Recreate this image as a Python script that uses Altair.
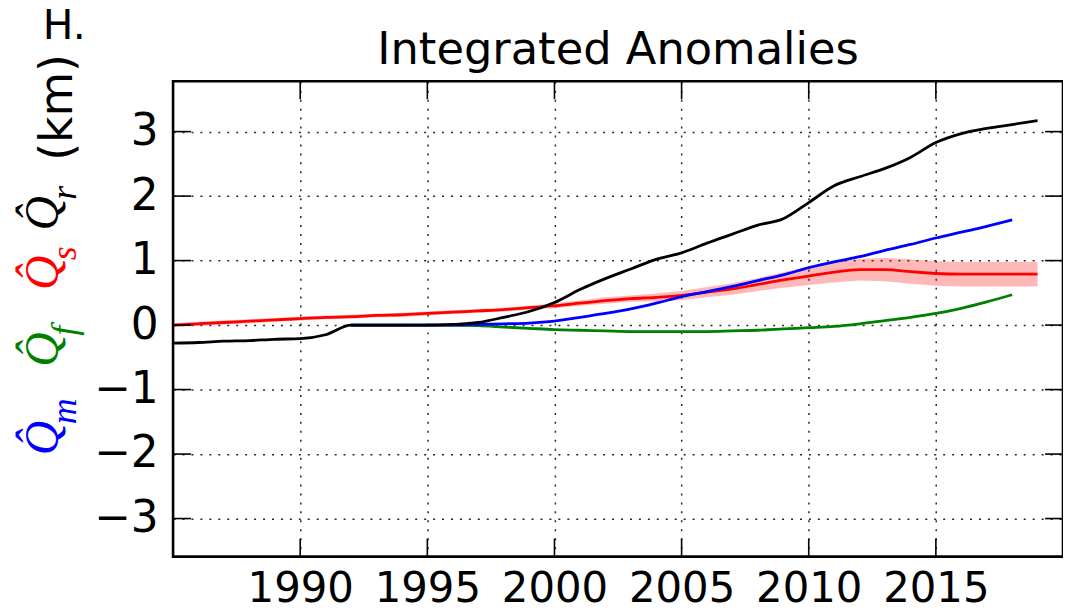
import altair as alt
import pandas as pd

# ---------------- data ----------------
years_full = list(range(1985, 2020))          # 1985..2019
years_short = list(range(1992, 2019))         # 1992..2018

q_r = [-0.28, -0.27, -0.25, -0.24, -0.22, -0.21, -0.15, 0.00, 0.00, 0.00,
       0.00, 0.01, 0.04, 0.12, 0.21, 0.35, 0.55, 0.72, 0.87, 1.02,
       1.12, 1.27, 1.41, 1.55, 1.65, 1.90, 2.16, 2.30, 2.43, 2.60,
       2.83, 2.97, 3.05, 3.11, 3.17]

q_s = [0.00, 0.02, 0.04, 0.06, 0.08, 0.10, 0.12, 0.13, 0.15, 0.16,
       0.18, 0.20, 0.22, 0.24, 0.27, 0.30, 0.34, 0.38, 0.41, 0.43,
       0.46, 0.51, 0.56, 0.63, 0.70, 0.76, 0.82, 0.86, 0.86, 0.83,
       0.80, 0.79, 0.79, 0.79, 0.79]
q_s_lo = [-0.03, -0.01, 0.01, 0.03, 0.05, 0.07, 0.09, 0.10, 0.12, 0.13,
          0.15, 0.17, 0.19, 0.21, 0.24, 0.26, 0.30, 0.33, 0.36, 0.37,
          0.39, 0.43, 0.47, 0.53, 0.58, 0.62, 0.66, 0.69, 0.68, 0.64,
          0.61, 0.60, 0.60, 0.60, 0.60]
q_s_hi = [0.03, 0.05, 0.07, 0.09, 0.11, 0.13, 0.15, 0.16, 0.18, 0.19,
          0.21, 0.23, 0.25, 0.27, 0.30, 0.34, 0.38, 0.43, 0.46, 0.49,
          0.53, 0.59, 0.65, 0.73, 0.82, 0.90, 0.98, 1.03, 1.04, 1.02,
          0.99, 0.98, 0.98, 0.98, 0.98]

q_m = [0.00, 0.00, 0.00, 0.00, 0.00, 0.01, 0.02, 0.03, 0.06, 0.12,
       0.18, 0.25, 0.34, 0.44, 0.52, 0.60, 0.69, 0.78, 0.89, 0.98,
       1.06, 1.16, 1.25, 1.35, 1.44, 1.53, 1.63]

q_f = [0.00, 0.00, 0.00, 0.00, 0.00, -0.01, -0.03, -0.05, -0.07, -0.08,
       -0.09, -0.10, -0.10, -0.10, -0.10, -0.09, -0.08, -0.06, -0.04, -0.02,
       0.02, 0.07, 0.12, 0.18, 0.26, 0.36, 0.47]

series_names = ["Qs", "Qf", "Qm", "Qr"]
series_colors = ["#ff0000", "#008000", "#0000ff", "#000000"]

x_ticks = [1990, 1995, 2000, 2005, 2010, 2015]
y_ticks = [-3, -2, -1, 0, 1, 2, 3]
x_domain = [1985, 2020]
y_domain = [-3.59, 3.78]
title_text = "Integrated Anomalies"

# ---------------- tables ----------------
rows = []
for name, yrs, vals in [("Qs", years_full, q_s), ("Qf", years_short, q_f),
                        ("Qm", years_short, q_m), ("Qr", years_full, q_r)]:
    for yv, v in zip(yrs, vals):
        rows.append({"series": name, "year": yv, "value": v,
                     "order": series_names.index(name)})
lines_df = pd.DataFrame(rows)
band_df = pd.DataFrame({"year": years_full, "lo": q_s_lo, "hi": q_s_hi})
xt_df = pd.DataFrame({"t": x_ticks})
yt_df = pd.DataFrame({"t": y_ticks})

W, H = 895, 478
FONT = "DejaVu Sans"
MATH = "Liberation Serif"

xs = alt.Scale(domain=x_domain, nice=False, zero=False)
ys = alt.Scale(domain=y_domain, nice=False, zero=False)

x_axis = alt.Axis(values=x_ticks, format="d", grid=True, gridColor="#000000",
                  gridDash=[2, 7], gridWidth=1.5, gridOpacity=0.85,
                  ticks=False, domain=False, labelFontSize=42, labelFont=FONT,
                  labelColor="#000000", labelPadding=12, title=None,
                  labelFlush=False, labelOverlap=False)
y_axis = alt.Axis(values=y_ticks, format="d", grid=True, gridColor="#000000",
                  gridDash=[2, 7], gridWidth=1.5, gridOpacity=0.85,
                  ticks=False, domain=False, labelFontSize=44, labelFont=FONT,
                  labelColor="#000000", labelPadding=15, title=None,
                  labelFlush=False, labelOverlap=False)

band = alt.Chart(band_df).mark_area(color="#ff0000", opacity=0.28).encode(
    x=alt.X("year:Q", scale=xs, axis=x_axis),
    y=alt.Y("lo:Q", scale=ys, axis=y_axis),
    y2="hi:Q",
)

lines = alt.Chart(lines_df).mark_line(strokeWidth=2.8, interpolate="monotone").encode(
    x=alt.X("year:Q", scale=xs),
    y=alt.Y("value:Q", scale=ys),
    color=alt.Color("series:N", scale=alt.Scale(domain=series_names, range=series_colors),
                    legend=None),
    order="order:Q",
)

tick_len = 18
tick_style = dict(color="#000000", strokeWidth=1.6)
xt_bottom = alt.Chart(xt_df).mark_rule(**tick_style).encode(
    x=alt.X("t:Q", scale=xs), y=alt.value(H), y2=alt.value(H - tick_len))
xt_top = alt.Chart(xt_df).mark_rule(**tick_style).encode(
    x=alt.X("t:Q", scale=xs), y=alt.value(0), y2=alt.value(tick_len))
yt_left = alt.Chart(yt_df).mark_rule(**tick_style).encode(
    y=alt.Y("t:Q", scale=ys), x=alt.value(0), x2=alt.value(tick_len))
yt_right = alt.Chart(yt_df).mark_rule(**tick_style).encode(
    y=alt.Y("t:Q", scale=ys), x=alt.value(W), x2=alt.value(W - tick_len))

# frame
frame = alt.Chart(pd.DataFrame({"a": [0]})).mark_rect(
    fill=None, fillOpacity=0, stroke="#000000", strokeWidth=2.6
).encode(x=alt.value(0), x2=alt.value(W), y=alt.value(0), y2=alt.value(H))

# ---------------- texts ----------------
def label(text, x, y, color, size, font=FONT, style="normal", angle=270, align="left"):
    return alt.Chart(pd.DataFrame({"t": [text]})).mark_text(
        angle=angle, align=align, baseline="alphabetic", fontSize=size,
        font=font, fontStyle=style, color=color,
    ).encode(text="t:N", x=alt.value(x), y=alt.value(y))

Q = "Q\u0302"
text_layers = [
    label(title_text, W / 2, -17, "#000000", 45, angle=0, align="center"),
    label(Q, -116, 376, "#0000ff", 48, MATH, "italic"),
    label("m", -98, 345, "#0000ff", 36, MATH, "italic"),
    label(Q, -116, 287, "#008000", 48, MATH, "italic"),
    label("f", -98, 256, "#008000", 36, MATH, "italic"),
    label(Q, -116, 210, "#ff0000", 48, MATH, "italic"),
    label("s", -98, 180, "#ff0000", 36, MATH, "italic"),
    label(Q, -116, 150, "#000000", 48, MATH, "italic"),
    label("r", -98, 119, "#000000", 36, MATH, "italic"),
    label("(km)", -102, 80, "#000000", 46),
    label("H.", -131, -43, "#000000", 41, angle=0),
]

chart = alt.layer(band, lines, xt_bottom, xt_top, yt_left, yt_right, frame,
                  *text_layers).properties(
    width=W, height=H,
    padding={"left": 166, "top": 72, "right": 0, "bottom": 56},
    autosize=alt.AutoSizeParams(type="none"),
    background="#ffffff",
).configure_view(stroke=None)

chart.save("out.html", embed_options={"renderer": "svg", "actions": False})
